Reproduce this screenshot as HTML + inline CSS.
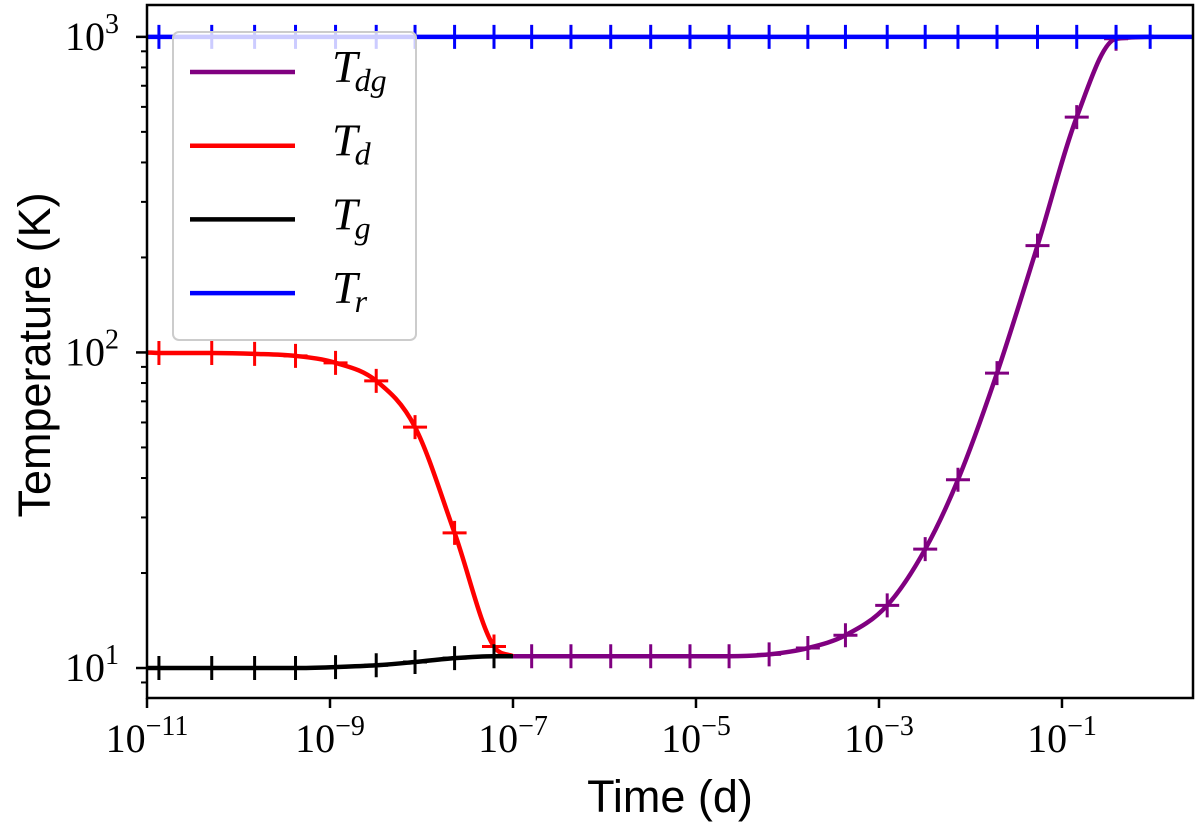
<!DOCTYPE html>
<html><head><meta charset="utf-8"><style>
html,body{margin:0;padding:0;background:#fff;}
svg{display:block;}
.tl{font-family:"Liberation Serif",serif;font-size:40px;fill:#000;}
.sup{font-size:28px;}
.ttl{font-family:"Liberation Sans",sans-serif;font-size:45px;fill:#000;}
.lg{font-family:"Liberation Serif",serif;font-style:italic;font-size:46px;fill:#000;}
.lgs{font-size:32px;}
</style></head><body>
<svg id="chart" width="1200" height="827" viewBox="0 0 1200 827">
<g id="plot"></g>
<g id="axes"></g>
<g id="legend"></g>
</svg>
<script>
// data (log-log plot: time in days, temperature in K)
const xTickExps = [-11, -9, -7, -5, -3, -1];
const yTickExps = [1, 2, 3];
const tEarly = [1e-11, 1.35e-11, 5.1e-11, 1.5e-10, 4.2e-10, 1.15e-9, 3.2e-9, 8.5e-9, 2.3e-8, 6.2e-8, 1e-7];
const tdVals = [100, 99.6, 99.6, 99, 97.5, 92.7, 81.3, 58, 26.8, 11.7, 10.9];
const tgVals = [10, 10, 10, 10, 10, 10.07, 10.2, 10.45, 10.75, 10.9, 10.9];
const tLate = [1e-7, 1.6e-7, 4.3e-7, 1.17e-6, 3.2e-6, 8.6e-6, 2.3e-5, 6.3e-5, 1.67e-4, 4.3e-4, 1.23e-3, 3.2e-3, 7.3e-3, 1.95e-2, 5.4e-2, 0.145, 0.39, 1.0];
const tdgVals = [10.9, 10.9, 10.9, 10.9, 10.9, 10.9, 10.9, 11.05, 11.57, 12.7, 15.8, 23.8, 39.5, 86, 218, 557, 986, 1000];
const trTimes = [1e-11, 1.35e-11, 5.1e-11, 1.5e-10, 4.2e-10, 1.15e-9, 3.2e-9, 8.5e-9, 2.3e-8, 6.2e-8, 1.6e-7, 4.3e-7, 1.17e-6, 3.2e-6, 8.6e-6, 2.3e-5, 6.3e-5, 1.67e-4, 4.3e-4, 1.23e-3, 3.2e-3, 7.3e-3, 1.95e-2, 5.4e-2, 0.145, 0.39, 0.92, 2.7];
const trVals = [1000, 1000, 1000, 1000, 1000, 1000, 1000, 1000, 1000, 1000, 1000, 1000, 1000, 1000, 1000, 1000, 1000, 1000, 1000, 1000, 1000, 1000, 1000, 1000, 1000, 1000, 1000, 1000];

const NS = "http://www.w3.org/2000/svg";
const L = 147, R = 1193, T = 5, B = 698;
const XMIN = -11, XMAX = 0.432, YMIN = 0.905, YMAX = 3.101;
function xs(t){ return L + (Math.log10(t) - XMIN) / (XMAX - XMIN) * (R - L); }
function ys(v){ return B - (Math.log10(v) - YMIN) / (YMAX - YMIN) * (B - T); }
function mk(tag, attrs, parent){ const e = document.createElementNS(NS, tag); for (const k in attrs) e.setAttribute(k, attrs[k]); parent.appendChild(e); return e; }

function smoothPath(px, py){
  const n = px.length; const d = [], m = new Array(n).fill(0);
  for (let i=0;i<n-1;i++) d.push((py[i+1]-py[i])/(px[i+1]-px[i]));
  m[0]=d[0]; m[n-1]=d[n-2];
  for (let i=1;i<n-1;i++){ m[i] = (d[i-1]*d[i] <= 0) ? 0 : (d[i-1]+d[i])/2; }
  for (let i=0;i<n-1;i++){ if (d[i]===0){m[i]=0;m[i+1]=0;continue;} const a=m[i]/d[i], b=m[i+1]/d[i], s=a*a+b*b; if (s>9){ const tt=3/Math.sqrt(s); m[i]=tt*a*d[i]; m[i+1]=tt*b*d[i]; } }
  let p = "M"+px[0]+","+py[0];
  for (let i=0;i<n-1;i++){ const h=(px[i+1]-px[i])/3; p += " C"+(px[i]+h)+","+(py[i]+m[i]*h)+" "+(px[i+1]-h)+","+(py[i+1]-m[i+1]*h)+" "+px[i+1]+","+py[i+1]; }
  return p;
}

const plot = document.getElementById('plot');
const clip = mk('clipPath', {id:'pc'}, mk('defs', {}, plot));
mk('rect', {x:L, y:T, width:R-L, height:B-T}, clip);
const pg = mk('g', {'clip-path':'url(#pc)'}, plot);

function drawSeries(name, times, vals, color, markFrom, markTo){
  const px = times.map(xs), py = vals.map(ys);
  const g = mk('g', {}, pg);
  
  
  const path = mk('path', {d: smoothPath(px, py), fill:'none', stroke:color, 'stroke-width':4.5}, g);
  
  
  for (let i = markFrom; i < times.length - markTo; i++){
    const m = mk('path', {d:"M"+(px[i]-12)+","+py[i]+"h24M"+px[i]+","+(py[i]-12)+"v24", stroke:color, 'stroke-width':3, fill:'none'}, g);
    
    
  }
}
drawSeries('t-dg', tLate, tdgVals, '#800080', 1, 1);
drawSeries('t-d', tEarly, tdVals, '#ff0000', 1, 1);
drawSeries('t-g', tEarly, tgVals, '#000000', 1, 1);
drawSeries('t-r', trTimes, trVals, '#0000ff', 1, 1);

// axes
const ax = document.getElementById('axes');
const frame = mk('rect', {x:L, y:T, width:R-L, height:B-T, fill:'none', stroke:'#000', 'stroke-width':2.5}, ax);


xTickExps.forEach(e => {
  const x = xs(Math.pow(10, e));
  mk('line', {x1:x, x2:x, y1:B, y2:B+10, stroke:'#000', 'stroke-width':2.5}, ax);
  const t = mk('text', {x:x, y:752, 'text-anchor':'middle', class:'tl'}, ax);
  
  
  t.innerHTML = '10<tspan class="sup" dy="-17">\u2212' + Math.abs(e) + '</tspan>';
});
for (let k = 0; k <= 3; k++){
  for (let j = 1; j <= 9; j++){
    const v = j * Math.pow(10, k), lv = Math.log10(v);
    if (lv < YMIN || lv > YMAX) continue;
    const y = ys(v);
    mk('line', {x1:L - (j===1?11:6), x2:L, y1:y, y2:y, stroke:'#000', 'stroke-width':j===1?2.5:2}, ax);
  }
}
yTickExps.forEach(e => {
  const y = ys(Math.pow(10, e));
  const t = mk('text', {x:119, y:y+13, 'text-anchor':'end', class:'tl'}, ax);
  
  
  t.innerHTML = '10<tspan class="sup" dy="-17">' + e + '</tspan>';
});
const xt = mk('text', {x:670, y:812, 'text-anchor':'middle', class:'ttl'}, ax);


xt.textContent = 'Time (d)';
const yt = mk('text', {x:0, y:0, 'text-anchor':'middle', class:'ttl', transform:'translate(50,355) rotate(-90)'}, ax);


yt.textContent = 'Temperature (K)';

// legend
const lg = document.getElementById('legend');
const box = mk('rect', {x:173, y:32, width:243, height:308, rx:6, fill:'#fff', 'fill-opacity':0.8, stroke:'#ccc', 'stroke-width':2}, lg);


const legNames = ['dg', 'd', 'g', 'r'];
const legColors = ['#800080', '#ff0000', '#000000', '#0000ff'];
legNames.forEach((s, i) => {
  const y = 72 + i * 73.7;
  const g = mk('g', {}, lg);
  
  
  mk('line', {x1:190, x2:295, y1:y, y2:y, stroke:legColors[i], 'stroke-width':4.5}, g);
  const t = mk('text', {x:332, y:y+10, class:'lg'}, g);
  t.innerHTML = 'T<tspan class="lgs" dx="-3" dy="9">' + s + '</tspan>';
});
</script>
</body></html>
